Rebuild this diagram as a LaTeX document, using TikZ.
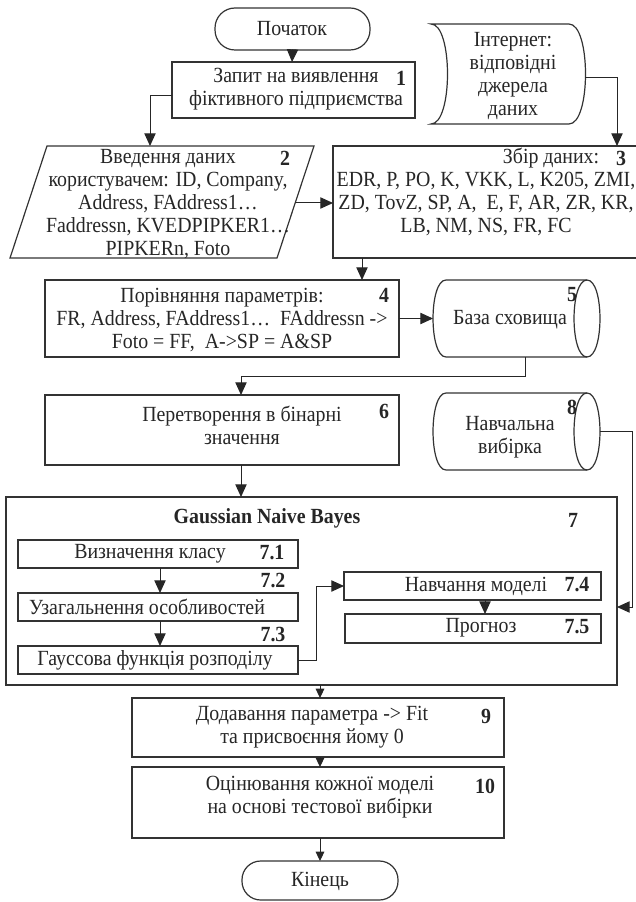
\documentclass[tikz,border=0pt]{standalone}
\usepackage{fontspec}
\setmainfont{Liberation Serif}[FakeStretch=0.92]
\usetikzlibrary{arrows.meta,fit,calc}
\newcommand\hcyl[4]{%
 \draw[shp] ({#1+13},#2) -- ({#3-13},#2)
   .. controls ({#3+4.3},#2) and ({#3+4.3},#4) .. ({#3-13},#4)
   -- ({#1+13},#4)
   .. controls ({#1-4.3},#4) and ({#1-4.3},#2) .. ({#1+13},#2) -- cycle;
 \draw[shp] ({#3-13},#2) .. controls ({#3-30.3},#2) and ({#3-30.3},#4) .. ({#3-13},#4);
}
\begin{document}
\begin{tikzpicture}[x=0.75pt,y=-0.75pt,
  every node/.style={inner sep=0pt,outer sep=0pt},
  txt/.style={font=\fontsize{16.2}{17.25}\selectfont,align=center,text=black!85},
  num/.style={font=\fontsize{16.2}{17.25}\selectfont\bfseries,text=black!85},
  shp/.style={draw=black!80,line width=0.9pt},
  arrbig/.style={draw=black!85,line width=0.75pt,-{Triangle[length=9.5pt,width=8.5pt]}},
  arrsm/.style={draw=black!85,line width=0.75pt,-{Triangle[length=7pt,width=6.5pt]}},
]
\useasboundingbox (0,0) rectangle (635,902);

% start
\node[shp,fit={(215,8)(370,50)},rounded corners=15pt] (startn) {};
\node[txt] at (292,29) {Початок};

% 1
\node[shp,fit={(172,62)(415,118)}] (b1) {};
\coordinate (b1L) at (172,96);
\node[txt] at (296,89) {Запит на виявлення\\фіктивного підприємства};
\node[num] at (401,78) {1};

% internet
\draw[shp] (431,24) -- (569,24) .. controls (591,24) and (591,124) .. (569,124)
  -- (431,124) .. controls (453,124) and (453,24) .. (431,24) -- cycle;
\node[fit={(431,24)(586,124)}] (inet) {};
\coordinate (inetR) at (585,78);
\node[txt] at (513,76) {Інтернет:\\відповідні\\джерела\\даних};

% 2
\draw[shp] (47,146) -- (314,146) -- (277,258) -- (10,258) -- cycle;
\node[fit={(10,146)(314,258)}] (b2) {};
\coordinate (b2R) at (295,203);
\node[txt] at (168,204) {Введення даних\\користувачем: ID, Company,\\Address, FAddress1…\\Faddressn, KVEDPIPKER1…\\PIPKERn, Foto};
\node[num] at (285,158) {2};

% 3
\node[shp,fit={(333,146)(660,258)}] (b3) {};
\node[txt] at (551,158) {Збір даних:};
\node[txt] at (486,204) {EDR, P, PO, K, VKK, L, K205, ZMI,\\ZD, TovZ, SP, A,\ \ E, F, AR, ZR, KR,\\LB, NM, NS, FR, FC};
\node[num] at (621,158) {3};

% 4
\node[shp,fit={(45,280)(399,357)}] (b4) {};
\node[txt] at (222,320) {Порівняння параметрів:\\FR, Address, FAddress1…\ \ FAddressn ->\\Foto = FF,\ \ A->SP = A\&SP};
\node[num] at (384,295) {4};

% 5
\hcyl{433}{280}{600}{357}
\node[fit={(433,280)(600,357)}] (b5) {};
\node[txt] at (510,320) {База сховища};
\node[num] at (572,295) {5};

% 6
\node[shp,fit={(45,395)(399,465)}] (b6) {};
\node[txt] at (242,425) {Перетворення в бінарні\\значення};
\node[num] at (384,411) {6};

% 8
\hcyl{433}{393}{600}{470}
\node[fit={(433,393)(600,470)}] (b8) {};
\node[txt] at (510,437) {Навчальна\\вибірка};
\node[num] at (572,407) {8};

% 7
\node[shp,fit={(6,497)(617,685)}] (b7) {};
\node[num] at (267,518) {Gaussian Naive Bayes};
\node[num] at (573,520) {7};

\node[shp,fit={(18,540)(298,568)}] (s71) {};
\node[txt] at (150,554) {Визначення класу};
\node[num] at (272,553) {7.1};

\node[num] at (273,580) {7.2};
\node[shp,fit={(18,593)(298,621)}] (s72) {};
\node[txt] at (147,607) {Узагальнення особливостей};

\node[num] at (273,634) {7.3};
\node[shp,fit={(18,646)(298,674)}] (s73) {};
\node[txt] at (155,660) {Гауссова функція розподілу};

\node[shp,fit={(344,572)(601,600)}] (s74) {};
\node[txt] at (476,586) {Навчання моделі};
\node[num] at (577,585) {7.4};

\node[shp,fit={(345,614)(601,643)}] (s75) {};
\node[txt] at (481,628) {Прогноз};
\node[num] at (577,627) {7.5};

% 9
\node[shp,fit={(132,698)(504,757)}] (b9) {};
\node[txt] at (312,727) {Додавання параметра -> Fit\\та присвоєння йому 0};
\node[num] at (486,716) {9};

% 10
\node[shp,fit={(132,767)(504,838)}] (b10) {};
\node[txt] at (320,797) {Оцінювання кожної моделі\\на основі тестової вибірки};
\node[num] at (485,786) {10};

% end
\node[shp,fit={(242,861)(398,900)},rounded corners=14pt] (stopn) {};
\node[txt] at (320,881) {Кінець};

% connectors
\draw[arrbig] (startn.south) -- ($(b1.north west)+(120,0)$);
\draw[arrbig] (b1L) -| ($(b2.north west)+(140,0)$);
\draw[arrbig] (inetR) -| ($(b3.north west)+(284,0)$);
\draw[arrbig] (b2R) -- (b3.west |- b2R);
\draw[arrbig] ($(b3.south west)+(29,0)$) -- ($(b4.north west)+(317,0)$);
\draw[arrbig] (b4.east) -- (b5.west);
\draw[arrbig] ($(b5.south west)+(92,0)$) -- ++(0,19) -| ($(b6.north west)+(196,0)$);
\draw[arrbig] ($(b6.south west)+(196,0)$) -- ($(b7.north west)+(235,0)$);
\draw[arrbig] (b8.east) -- ++(32,0) |- ($(b7.north east)+(0,110)$);
\draw[arrbig] ($(s71.south west)+(142,0)$) -- ($(s72.north west)+(142,0)$);
\draw[arrbig] ($(s72.south west)+(142,0)$) -- ($(s73.north west)+(142,0)$);
\draw[arrbig] (s73.east) -- ++(18,0) |- (s74.west);
\draw[arrbig] ($(s74.south west)+(141,0)$) -- ($(s75.north west)+(140,0)$);
\draw[arrsm] ($(b7.south west)+(314,0)$) -- ($(b9.north west)+(188,0)$);
\draw[arrsm] ($(b9.south west)+(188,0)$) -- ($(b10.north west)+(188,0)$);
\draw[arrsm] ($(b10.south west)+(188,0)$) -- (stopn.north);
\end{tikzpicture}
\end{document}
